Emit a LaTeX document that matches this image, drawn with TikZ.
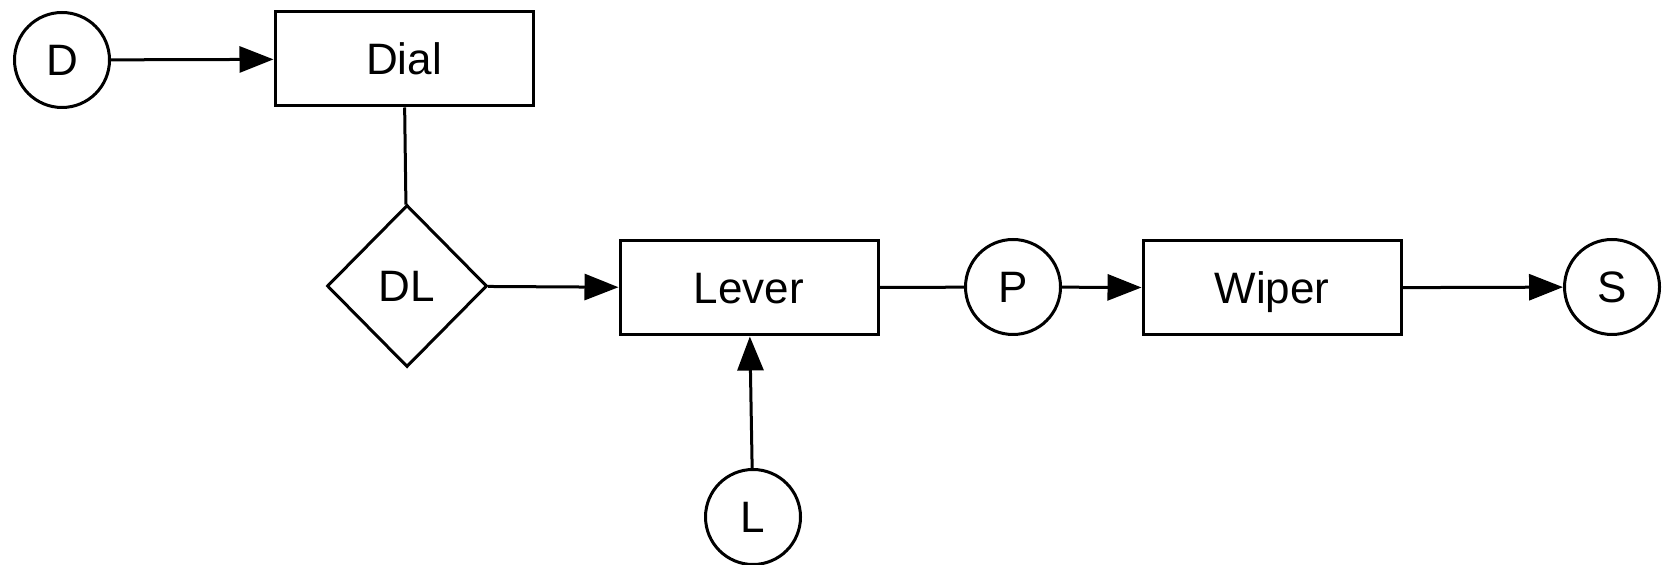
\documentclass[tikz,border=0pt]{standalone}
\usepackage{fontspec}
\setmainfont{Liberation Sans}
\usetikzlibrary{arrows.meta,shapes.geometric}
\tikzset{
	block/.style={draw, line width=1.5pt, minimum width=129pt, minimum height=47pt, inner sep=0pt},
	port/.style={draw, circle, line width=1.5pt, minimum size=47.5pt, inner sep=0pt},
	joint/.style={draw, diamond, line width=1.5pt, minimum width=80pt, minimum height=81pt, inner sep=0pt},
}
\begin{document}
\begin{tikzpicture}[x=0.5pt, y=-0.5pt, line width=1.5pt,
		>={Triangle[length=17pt,width=13pt]},
		every node/.append style={font=\fontsize{22}{26}\selectfont, text height=15.7pt, text depth=0pt}]
			\useasboundingbox (0,0) rectangle (1663,565);
			\node [port] (D) at (62,60) {D};
			\node [block] (Dial) at (404,59) {Dial};
			\node [joint] (DL) at (407,286) {DL};
			\node [block] (Lever) at (749,288) {Lever};
			\node [port] (P) at (1013,287) {P};
			\node [block] (Wiper) at (1272,288) {Wiper};
			\node [port] (S) at (1612,287) {S};
			\node [port] (L) at (753,517) {L};

			\draw [->] (D) -- (Dial);
			\draw (Dial) -- (DL);
			\draw [->] (DL) -- (Lever);
			\draw (Lever) -- (P);
			\draw [->] (P) -- (Wiper);
			\draw [->] (Wiper) -- (S);
			\draw [->] (L) -- (Lever);
		\end{tikzpicture}
\end{document}
